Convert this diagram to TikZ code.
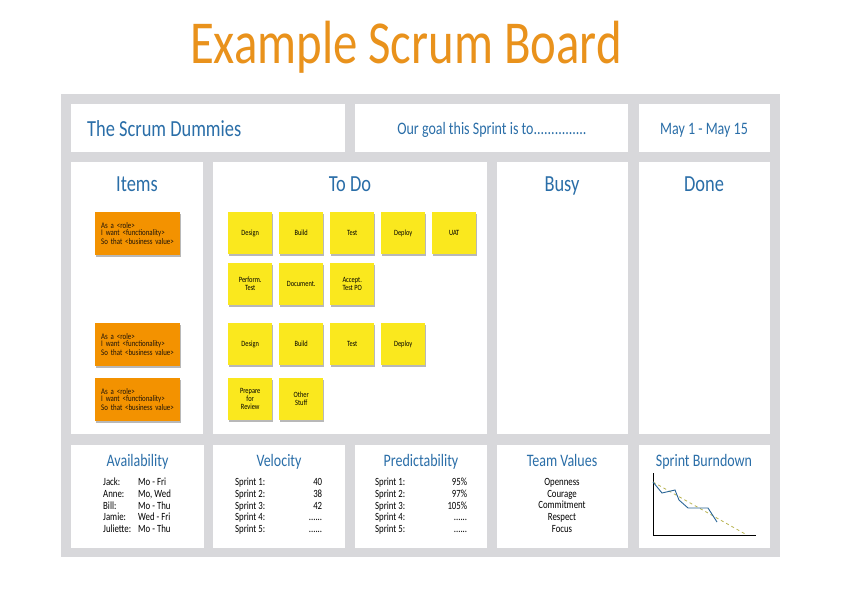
\documentclass[tikz,border=0pt]{standalone}
\usepackage{fontspec}
\setmainfont{Carlito}[FakeStretch=0.8]
\usetikzlibrary{shadows}
\definecolor{frame}{RGB}{216,216,219}
\definecolor{ttl}{RGB}{233,146,28}
\definecolor{hd}{RGB}{42,110,168}
\definecolor{org}{RGB}{243,146,0}
\definecolor{yel}{RGB}{250,232,30}
\definecolor{dashc}{RGB}{185,180,80}
\definecolor{burn}{RGB}{40,100,150}
\begin{document}
\begin{tikzpicture}[x=1pt,y=-1pt,
  panel/.style={fill=white,draw=none,inner sep=0pt,outer sep=0pt,anchor=north west},
  nshadow/.style={drop shadow={shadow xshift=0.6pt,shadow yshift=-1.3pt,fill=black,opacity=0.28}},
  ynote/.style={nshadow,fill=yel,inner sep=0pt,anchor=north west,minimum width=44pt,minimum height=42pt,align=center,font=\fontsize{8}{8}\selectfont},
  onote/.style={nshadow,fill=org,inner xsep=6pt,inner ysep=0pt,anchor=north west,text width=73pt,minimum height=43pt,align=left,text=black!85!brown,font=\fontsize{8.6}{7}\selectfont},
  bigttl/.style={text=ttl,inner sep=0pt,font=\fontsize{61}{61}\selectfont},
  hdr/.style={text=hd,inner sep=0pt,font=\fontsize{23}{23}\selectfont},
  hdrs/.style={text=hd,inner sep=0pt,font=\fontsize{17.5}{17.5}\selectfont},
  subttl/.style={text=hd,inner sep=0pt,font=\fontsize{17.5}{17.5}\selectfont},
  body/.style={inner sep=0pt,font=\fontsize{11}{11.7}\selectfont},
  axisline/.style={black,line width=0.8pt},
  ideal/.style={dashc,dashed,line width=0.8pt},
  actual/.style={burn,line width=0.9pt}
]
\useasboundingbox (0,0) rectangle (842,595);
\fill[white] (0,0) rectangle (842,595);

% title
\node[bigttl,anchor=base] (title) at (406,63) {Example Scrum Board};

% board frame
\node[panel,fill=frame,minimum width=719pt,minimum height=463pt] (board) at (61,94) {};

% header row
\node[panel,minimum width=274pt,minimum height=48pt] (hTeam) at (71,104) {};
\node[panel,minimum width=273pt,minimum height=48pt] (hGoal) at (355,104) {};
\node[panel,minimum width=131pt,minimum height=48pt] (hDate) at (639,104) {};
\node[hdr,anchor=base west] (tTeam) at (87,136) {The Scrum Dummies};
\node[hdrs,anchor=base] (tGoal) at (492,134) {Our goal this Sprint is to...............};
\node[hdrs,anchor=base] (tDate) at (704,134) {May 1 - May 15};

% main row
\node[panel,minimum width=132pt,minimum height=272pt] (cItems) at (71,162) {};
\node[panel,minimum width=274pt,minimum height=272pt] (cTodo) at (213,162) {};
\node[panel,minimum width=131pt,minimum height=272pt] (cBusy) at (497,162) {};
\node[panel,minimum width=131pt,minimum height=272pt] (cDone) at (639,162) {};
\node[hdr,anchor=base] (tItems) at (137,191.5) {Items};
\node[hdr,anchor=base] (tTodo) at (350,191.5) {To Do};
\node[hdr,anchor=base] (tBusy) at (562,191.5) {Busy};
\node[hdr,anchor=base] (tDone) at (704,191.5) {Done};

% bottom row
\node[panel,minimum width=133pt,minimum height=103pt] (bAvail) at (71,445) {};
\node[panel,minimum width=132pt,minimum height=103pt] (bVel) at (213,445) {};
\node[panel,minimum width=132pt,minimum height=103pt] (bPred) at (355,445) {};
\node[panel,minimum width=131pt,minimum height=103pt] (bVal) at (497,445) {};
\node[panel,minimum width=131pt,minimum height=103pt] (bBurn) at (639,445) {};
\node[subttl,anchor=base] (sAvail) at (137.5,466.5) {Availability};
\node[subttl,anchor=base] (sVel) at (279,466.5) {Velocity};
\node[subttl,anchor=base] (sPred) at (421,466.5) {Predictability};
\node[subttl,anchor=base] (sVal) at (562,466.5) {Team Values};
\node[subttl,anchor=base] (sBurn) at (704,466.5) {Sprint Burndown};

% story cards
\node[onote] (o1) at (95,212) {As a <role>\\I want <functionality>\\So that <business value>};
\node[onote] (o2) at (95,323) {As a <role>\\I want <functionality>\\So that <business value>};
\node[onote] (o3) at (95,378) {As a <role>\\I want <functionality>\\So that <business value>};

% tasks
\node[ynote] (y11) at (228,212) {Design};
\node[ynote] (y12) at (279,212) {Build};
\node[ynote] (y13) at (330,212) {Test};
\node[ynote] (y14) at (381,212) {Deploy};
\node[ynote] (y15) at (432,212) {UAT};
\node[ynote] (y21) at (228,263) {Perform.\\Test};
\node[ynote] (y22) at (279,263) {Document.};
\node[ynote] (y23) at (330,263) {Accept.\\Test PO};
\node[ynote] (y31) at (228,323) {Design};
\node[ynote] (y32) at (279,323) {Build};
\node[ynote] (y33) at (330,323) {Test};
\node[ynote] (y34) at (381,323) {Deploy};
\node[ynote] (y41) at (228,378) {Prepare\\for\\Review};
\node[ynote] (y42) at (279,378) {Other\\Stuff};

% bottom contents
\node[body,anchor=north west,align=left] (avail) at (103,478) {%
\makebox[35pt][l]{Jack:}Mo - Fri\\
\makebox[35pt][l]{Anne:}Mo, Wed\\
\makebox[35pt][l]{Bill:}Mo - Thu\\
\makebox[35pt][l]{Jamie:}Wed - Fri\\
\makebox[35pt][l]{Juliette:}Mo - Thu};
\node[body,anchor=north west,align=left] (vel) at (235,478) {%
\makebox[87pt]{Sprint 1:\hfill 40}\\
\makebox[87pt]{Sprint 2:\hfill 38}\\
\makebox[87pt]{Sprint 3:\hfill 42}\\
\makebox[87pt]{Sprint 4:\hfill ......}\\
\makebox[87pt]{Sprint 5:\hfill ......}};
\node[body,anchor=north west,align=left] (pred) at (375,478) {%
\makebox[92pt]{Sprint 1:\hfill 95\%}\\
\makebox[92pt]{Sprint 2:\hfill 97\%}\\
\makebox[92pt]{Sprint 3:\hfill 105\%}\\
\makebox[92pt]{Sprint 4:\hfill ......}\\
\makebox[92pt]{Sprint 5:\hfill ......}};
\node[body,anchor=north,align=center] (vals) at (562,478) {Openness\\Courage\\Commitment\\Respect\\Focus};

% burndown chart
\coordinate (ax0) at (653,473);
\coordinate (axO) at (653,535);
\coordinate (ax1) at (756,535);
\draw[axisline] (ax0) -- (axO) -- (ax1);
\draw[ideal] (653,482) -- (747,535);
\draw[actual] (653,482) -- (662,493) -- (675,490) -- (679,500) -- (688,508) -- (708,508) -- (717,522);
\end{tikzpicture}
\end{document}
